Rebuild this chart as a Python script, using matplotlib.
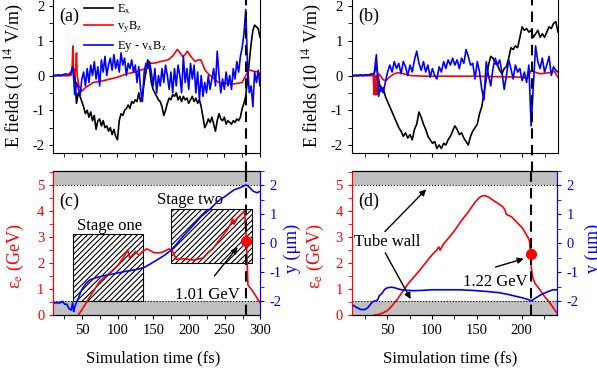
import numpy as np
import matplotlib.pyplot as plt
from matplotlib.ticker import MultipleLocator
from matplotlib.patches import Rectangle

plt.rcParams['font.family'] = ['Liberation Serif', 'DejaVu Serif']
plt.rcParams['mathtext.fontset'] = 'stix'
plt.rcParams['axes.unicode_minus'] = False
plt.rcParams['hatch.linewidth'] = 0.8

# ---- panel (a): fields, sampled every 2.5 fs from 10 to 300 fs
ex_a = [0, 0, 0, 0, 0, 0, 0, 0, 0, 0.02, 0.05,
        0.25, 0.1, -0.8, -0.5, -0.6, -0.75,
        -0.9, -1.1, -1.0, -1.2, -1.05, -1.3, -1.15, -1.55, -1.3, -1.25,
        -1.45, -1.3, -1.5, -1.45, -1.6, -1.5, -1.7, -1.55, -1.75, -1.85,
        -1.3, -1.1, -1.15, -1.0, -0.95, -0.85, -0.95, -0.75, -0.8, -0.7,
        -0.75, -0.5, -0.75, -0.6, -0.2, 0.1, 0.45, 0.2,
        -0.2, -0.4, -0.5, -0.6, -0.7, -0.75, -0.9, -1.15, -1.0, -0.8,
        -0.65, -0.7, -0.55, -0.6, -0.5, -0.7, -0.6, -0.75, -0.6, -0.7,
        -0.65, -0.8, -0.7, -0.6, -0.75, -0.65, -0.8, -0.7, -0.9, -1.2,
        -1.5, -1.4, -1.25, -1.35, -1.2, -1.4, -1.6, -1.3, -1.1, -1.25,
        -1.3, -1.2, -1.4, -1.3, -1.35, -1.4, -1.3, -1.35, -1.25, -1.3,
        -1.2, -0.95,
        -0.8, -0.6, -0.1, 0.4, 0.9, 1.3, 1.45, 1.4, 1.35, 1.1]
ey_a = [0, 0, 0, 0.02, 0, 0.02, 0.03, 0.05, 0.02, 0.05, 0.1,
        0.25, -0.55, -0.2, -0.35, -0.6, -0.1,
        0.1, -0.3, 0.2, -0.2, 0.3, 0.0, 0.4, -0.1, 0.25, -0.3,
        0.45, 0.1, 0.55, 0.0, 0.3, 0.5, 0.15, 0.6, 0.2, 0.45,
        0.1, 0.65, 0.3, 0.5, 0.0, 0.35, 0.2, 0.45, 0.1, 0.3,
        -0.2, 0.25, -0.4, -0.75, 0.1, 0.35, 0.2, 0.4,
        0.1, -0.3, 0.2, -0.5, 0.0, -0.3, 0.2, -0.2, 0.3, 0.0,
        -0.4, 0.1, -0.5, 0.2, -0.3, 0.3, 0.0, -0.5, 0.55, -0.2,
        0.2, -0.4, 0.35, -0.1, 0.3, -0.5, 0.1, -0.7, 0.0, -0.6,
        -0.2, -0.5, 0.0, -0.4, -0.1, 0.2, -0.3, 0.7, 0.0, -0.5,
        -0.1, -0.4, 0.1, -0.3, 0.0, -0.4, 0.2, -0.1, 0.4, 0.1,
        0.55, 0.8,
        1.2, 1.9, 0.3, -0.5, -0.3, -0.9, 0.1, -0.2, 0.15, -0.3]
vb_t_a = [10, 35, 36.5, 37.5, 38.5, 40, 41.5, 42.5, 43.5, 46,
          50, 55, 66, 80, 90, 100, 113, 125, 132, 140,
          146, 153, 160, 171, 177, 184, 188, 191, 195, 198,
          203, 209, 213, 217, 223, 230, 242, 252, 261, 270,
          275, 280, 284, 287, 292, 298, 300]
vb_a = [0, 0, 0.3, 0.85, 0.0, 0.05, 0.2, 0.65, 0.0, -0.3,
        -0.45, -0.35, -0.2, -0.15, -0.1, -0.05, 0.05, 0.1, 0.15, 0.2,
        0.35, 0.36, 0.4, 0.45, 0.55, 0.75, 0.65, 0.55, 0.6, 0.7,
        0.55, 0.4, 0.45, 0.45, 0.15, 0.0, -0.2, -0.22, -0.25, -0.22,
        -0.2, 0.0, 0.15, 0.15, 0.12, 0.1, 0.0]

# ---- panel (b): fields, sampled every 2.5 fs from 10 to 240 fs
ex_b = [0, 0, 0, 0, 0, 0, 0, 0.02, 0, 0.02, 0.05,
        0.3, -0.1, -0.45, -0.35, -0.6, -0.75, -0.9, -1.05, -1.2, -1.35,
        -1.5, -1.6, -1.75, -1.65, -1.8, -1.7, -1.85, -1.55, -1.4, -1.05,
        -1.2, -1.4, -1.55, -1.75, -1.85, -1.95, -1.9, -2.1, -2.0, -2.1,
        -1.95, -2.0, -1.85, -1.75, -1.6, -1.45, -1.55, -1.7, -1.65, -1.8,
        -1.9, -2.0, -1.75, -1.6, -1.5, -1.4, -1.1, -0.9, -0.5, -0.1,
        0.3, 0.55, 0.5, 0.35, 0.3, 0.15, 0.05, 0.2, 0.25, 0.5,
        0.8, 0.75, 0.85, 0.8, 1.1, 1.4, 1.3, 1.35, 1.25, 1.3,
        1.1, 1.2, 1.3, 1.1, 1.2, 1.1, 1.25, 1.4, 1.35, 1.5,
        1.55, 1.25]
ey_b = [0, 0, 0, 0, 0.02, 0, 0.02, 0, 0.03, 0.05, 0.05,
        0.6, -0.6, -0.3, -0.5, -0.2, 0.1, 0.3, 0.1, 0.4, 0.2,
        0.35, 0.05, 0.4, 0.25, 0.0, 0.3, 0.1, 0.45, 0.7, 0.35,
        0.15, 0.4, 0.1, 0.3, -0.05, 0.2, 0.0, -0.1, 0.25, 0.1,
        0.4, 0.2, 0.45, 0.3, 0.5, 0.3, 0.45, 0.2, 0.5, 0.35,
        0.75, 0.55, 0.3, 0.35, -0.1, 0.4, 0.1, -0.4, -0.7, 0.4,
        0.0, -0.3, 0.2, 0.5, 0.3, 0.45, 0.1, -0.4, 0.0, 0.45,
        0.2, -0.1, 0.3, 0.1, 0.2, -0.15, 0.1, -0.2, 0.3, -1.45,
        -0.3, 0.85, 0.4, 0.2, 0.5, 0.1, 0.3, 0.55, 0.0, 0.25,
        0.15, 0.1]
vb_t_b = [10, 34, 35, 35.5, 36, 36.5, 37, 37.5, 38, 38.5,
          39, 40, 42, 45, 48, 52, 57, 62, 68, 75,
          90, 150, 200, 206, 210, 214, 220, 230, 236, 240]
vb_b = [0, 0, -0.55, 0, -0.55, 0, -0.55, 0, -0.55, 0,
        -0.3, 0.05, 0.0, -0.12, -0.15, -0.05, 0.05, 0.08, 0.05, 0.0,
        -0.02, -0.02, -0.05, -0.08, 0.15, 0.1, 0.05, 0.08, 0.12, -0.05]

# ---- panel (c): energy (GeV) and transverse position y (um)
en_t_c = [45, 50, 60, 75, 90, 100, 110, 114, 117, 119,
          125, 130, 135, 141, 151, 160, 165, 172, 177, 182,
          193, 205, 212, 220, 226, 233, 240, 247, 254, 259,
          261, 263, 264, 268, 272, 277, 278, 280, 282.5, 287,
          293, 299, 300]
en_c = [0, 0.2, 0.65, 1.3, 1.65, 1.9, 2.3, 2.5, 2.2, 2.25,
        2.45, 2.3, 2.45, 2.55, 2.4, 2.4, 2.45, 2.55, 2.45, 2.15,
        2.17, 2.12, 2.15, 2.2, 2.4, 2.55, 2.8, 3.05, 3.3, 3.55,
        3.7, 3.5, 3.55, 3.75, 3.85, 4.0, 3.9, 3.0, 1.15, 1.0,
        0.75, 0.5, 0.45]
y_t_c = [10, 15, 20, 23, 26, 29, 32, 35, 37, 38.5,
         40, 42, 45, 48, 52, 57, 62, 70, 80, 90,
         100, 110, 122, 130, 137, 145, 155, 165, 175, 185,
         193, 205, 217, 230, 240, 252, 263, 272, 280, 284,
         290, 295, 300]
y_c = [-2.05, -2.05, -2.05, -2.0, -2.1, -2.1, -2.25, -2.3, -2.05, -2.35,
       -2.2, -2.05, -1.9, -1.7, -1.5, -1.35, -1.25, -1.18, -1.12, -1.07,
       -1.02, -0.97, -0.92, -0.88, -0.83, -0.72, -0.57, -0.42, -0.23, 0.05,
       0.28, 0.6, 0.93, 1.2, 1.45, 1.65, 1.85, 1.93, 2.02, 1.95,
       1.8, 1.75, 1.8]

# ---- panel (d)
en_t_d = [35, 40, 45, 50, 55, 62, 68, 73, 80,
          86, 92, 97, 101, 105, 107.5, 109, 110.5, 113, 118,
          125, 133, 140, 148, 152, 155, 158, 161, 165, 170,
          175, 179, 181.5, 183, 189, 196, 201, 204, 207, 209,
          209.8, 211, 212.5, 215, 220, 226, 230, 235, 238, 240]
en_d = [0, 0.02, 0.08, 0.17, 0.35, 0.65, 0.95, 1.2, 1.48,
        1.72, 1.98, 2.2, 2.36, 2.5, 2.62, 2.5, 2.6, 2.75, 2.95,
        3.25, 3.65, 3.95, 4.35, 4.5, 4.58, 4.6, 4.58, 4.5, 4.38,
        4.27, 4.17, 4.05, 3.88, 3.78, 3.53, 3.35, 3.18, 3.0, 2.85,
        2.4, 1.8, 1.45, 1.22, 1.0, 0.7, 0.55, 0.3, 0.15, 0.05]
y_t_d = [10, 15, 20, 25, 28, 31, 34, 37, 39, 41,
         44, 47, 50, 54, 58, 62, 66, 72, 80, 90,
         100, 115, 130, 145, 162, 175, 185, 193, 200, 206,
         211, 215, 220, 225, 230, 235, 240]
y_d = [-2.1, -2.2, -2.28, -2.28, -2.22, -2.1, -2.0, -1.98, -1.95, -1.8,
       -1.72, -1.58, -1.53, -1.51, -1.53, -1.57, -1.6, -1.62, -1.63, -1.62,
       -1.6, -1.6, -1.6, -1.62, -1.66, -1.7, -1.76, -1.82, -1.87, -1.92,
       -1.98, -1.9, -1.8, -1.72, -1.66, -1.6, -1.6]

# marked points, stage boxes, exit times
dot_c = (280, 2.85)
dot_d = (211, 2.36)
t_exit_c = 280
t_exit_d = 211
stage_one = (37, 0.55, 135.6, 3.14)   # t0, e0, t1, e1
stage_two = (175, 2.0, 288, 4.08)
wall = 2.0   # tube wall at +-2 um

fig = plt.figure(figsize=(5.97, 3.75), dpi=100)
ax_a = fig.add_axes([0.0893, 0.592, 0.3462, 0.4133])
ax_b = fig.add_axes([0.5891, 0.592, 0.3456, 0.4133])
ax_c = fig.add_axes([0.0893, 0.16, 0.3470, 0.384])
ax_d = fig.add_axes([0.5891, 0.16, 0.3444, 0.384])

lw = 1.2
t_a = np.linspace(10, 300, len(ex_a))
t_b = np.linspace(10, 240, len(ex_b))
ax_a.plot(t_a, ex_a, color='black', lw=lw, label='E$_\\mathrm{x}$')
ax_a.plot(vb_t_a, vb_a, color='red', lw=lw, label='v$_\\mathrm{y}$B$_\\mathrm{z}$')
ax_a.plot(t_a, ey_a, color='blue', lw=lw, label='Ey - v$_\\mathrm{x}$B$_\\mathrm{z}$')
ax_b.plot(t_b, ex_b, color='black', lw=lw)
ax_b.plot(vb_t_b, vb_b, color='red', lw=lw)
ax_b.plot(t_b, ey_b, color='blue', lw=lw)


def field_axes(ax, xmax, lab_x, tag):
    ax.set_xlim(10, xmax)
    ax.set_ylim(-2.23, 2.23)
    ax.xaxis.set_major_locator(MultipleLocator(50))
    ax.xaxis.set_minor_locator(MultipleLocator(25))
    ax.yaxis.set_major_locator(MultipleLocator(1))
    ax.yaxis.set_minor_locator(MultipleLocator(0.5))
    ax.tick_params(which='both', direction='out', length=3, labelsize=10.5)
    ax.tick_params(axis='x', labelbottom=False)
    ax.set_ylabel('E fields (10$^{\\ 14}$ V/m)', fontsize=13)
    ax.yaxis.set_label_coords(lab_x, 0.5)
    ax.text(0.03, 0.88, tag, transform=ax.transAxes, fontsize=13, va='center')


field_axes(ax_a, 300, -0.13, '(a)')
field_axes(ax_b, 240, -0.135, '(b)')
ax_a.legend(loc='upper left', bbox_to_anchor=(0.15, 0.975), frameon=False,
            fontsize=9, handlelength=2.3, labelspacing=0.3, borderaxespad=0,
            borderpad=0, handletextpad=0.3)

# dashed exit lines spanning the upper and lower panels
ax_a.axvline(t_exit_c, ymin=-0.12, ymax=1, color='black', lw=1.5,
             dashes=(5, 3), clip_on=False)
ax_b.axvline(t_exit_d, ymin=-0.12, ymax=1, color='black', lw=1.5,
             dashes=(5, 3), clip_on=False)


def energy_axes(ax, xmax, tag, t_exit, lab_l, lab_r):
    ax.set_xlim(10, xmax)
    ax.set_ylim(0, 5.55)
    ax2 = ax.twinx()
    ax2.set_ylim(-2.47, 2.5)
    lo, hi = ax2.get_ylim()
    f_lo = (-wall - lo) / (hi - lo)
    f_hi = (wall - lo) / (hi - lo)
    ax.axvspan(10, xmax, ymin=0, ymax=f_lo, color='#c0c0c0', lw=0, zorder=0)
    ax.axvspan(10, xmax, ymin=f_hi, ymax=1, color='#c0c0c0', lw=0, zorder=0)
    ax2.axhline(-wall, color='black', lw=0.8, ls=':')
    ax2.axhline(wall, color='black', lw=0.8, ls=':')
    ax.axvline(t_exit, color='black', lw=1.5, dashes=(5, 3), zorder=5)

    ax.xaxis.set_major_locator(MultipleLocator(50))
    ax.xaxis.set_minor_locator(MultipleLocator(25))
    ax.yaxis.set_major_locator(MultipleLocator(1))
    ax.yaxis.set_minor_locator(MultipleLocator(0.5))
    ax2.yaxis.set_major_locator(MultipleLocator(1))
    ax2.yaxis.set_minor_locator(MultipleLocator(0.5))
    ax.tick_params(which='both', direction='out', length=3, labelsize=10.5)
    ax.tick_params(axis='y', which='both', colors='red')
    ax2.tick_params(which='both', direction='out', length=3, labelsize=10.5,
                    colors='blue')
    for a in (ax, ax2):
        a.spines['left'].set_color('red')
        a.spines['right'].set_color('blue')
    ax.set_ylabel('ε$_\\mathrm{e}$ (GeV)', color='red', fontsize=13)
    ax.yaxis.set_label_coords(lab_l, 0.41)
    ax2.set_ylabel('y (μm)', color='blue', fontsize=13)
    ax2.yaxis.set_label_coords(lab_r, 0.46)
    ax.set_xlabel('Simulation time (fs)', fontsize=12)
    ax.xaxis.set_label_coords(0.48, -0.245)
    ax.text(0.03, 0.79, tag, transform=ax.transAxes, fontsize=13, va='center')
    return ax2


ax_c2 = energy_axes(ax_c, 300, '(c)', t_exit_c, -0.13, 1.11)
ax_d2 = energy_axes(ax_d, 240, '(d)', t_exit_d, -0.125, 1.135)

for box in (stage_one, stage_two):
    ax_c.add_patch(Rectangle((box[0], box[1]), box[2] - box[0], box[3] - box[1],
                             facecolor='white', edgecolor='black', lw=0.8,
                             hatch='//////', zorder=1))
ax_c.text(89, 3.42, 'Stage one', fontsize=12, ha='center', va='center', zorder=6)
ax_c.text(202, 4.42, 'Stage two', fontsize=12, ha='center', va='center', zorder=6)

ax_c.plot(en_t_c, en_c, color='red', lw=lw, zorder=3)
ax_c2.plot(y_t_c, y_c, color='blue', lw=lw)
ax_c.plot(*dot_c, 'o', color='red', ms=7, zorder=6)
ax_c.annotate('', xy=(270.5, 2.7), xytext=(233, 1.42),
              arrowprops=dict(arrowstyle='-|>', color='black', lw=1,
                              mutation_scale=9), zorder=6)
ax_c.text(226, 0.78, '1.01 GeV', fontsize=12, ha='center', va='center', zorder=6)

ax_d.plot(en_t_d, en_d, color='red', lw=lw, zorder=3)
ax_d2.plot(y_t_d, y_d, color='blue', lw=lw)
ax_d.plot(*dot_d, 'o', color='red', ms=7, zorder=6)
ax_d.annotate('', xy=(205.5, 2.2), xytext=(168, 1.82),
              arrowprops=dict(arrowstyle='-|>', color='black', lw=1,
                              mutation_scale=9), zorder=6)
ax_d.text(171, 1.26, '1.22 GeV', fontsize=12, ha='center', va='center', zorder=6)
ax_d.text(50, 2.81, 'Tube wall', fontsize=12, ha='center', va='center', zorder=6)
ax_d.annotate('', xy=(95.5, 4.92), xytext=(45, 3.14),
              arrowprops=dict(arrowstyle='-|>', color='black', lw=1,
                              mutation_scale=9), zorder=6)
ax_d.annotate('', xy=(77.5, 0.52), xytext=(46, 2.49),
              arrowprops=dict(arrowstyle='-|>', color='black', lw=1,
                              mutation_scale=9), zorder=6)

fig.savefig('out.png', dpi=100)
